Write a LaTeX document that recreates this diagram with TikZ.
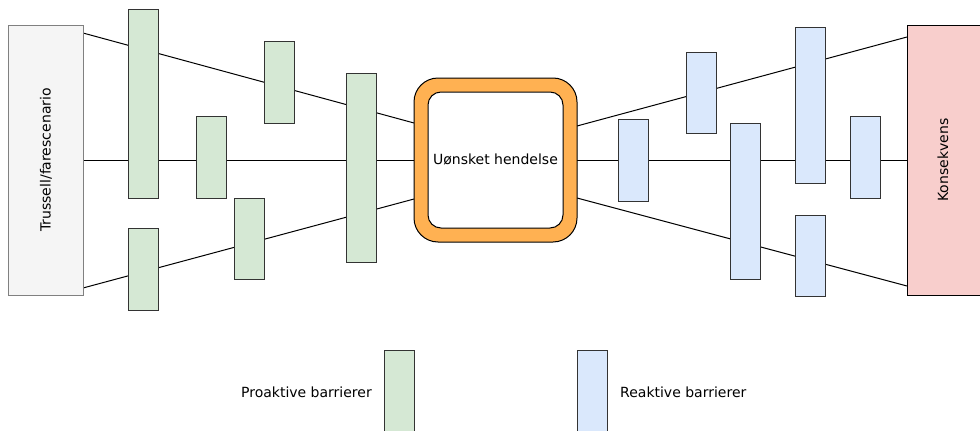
\documentclass[tikz,border=0pt]{standalone}
\usepackage{fontspec}
\setmainfont{DejaVu Sans}
\usetikzlibrary{backgrounds}
\definecolor{grayfill}{HTML}{F5F5F5}
\definecolor{graystroke}{HTML}{808080}
\definecolor{greenfill}{HTML}{D5E8D4}
\definecolor{bluefill}{HTML}{DAE8FC}
\definecolor{pinkfill}{HTML}{F8CECC}
\definecolor{orangefill}{HTML}{FFB152}
\definecolor{boxstroke}{HTML}{333333}
\begin{document}
\begin{tikzpicture}[x=1pt,y=-1pt,
  barrier/.style={draw=boxstroke,line width=1pt,minimum width=30pt,inner sep=0pt,outer sep=0pt},
  pro/.style={barrier,fill=greenfill},
  rea/.style={barrier,fill=bluefill},
  link/.style={draw=black,line width=1pt},
  lbl/.style={font=\fontsize{14}{16}\selectfont,inner sep=0pt}]
\useasboundingbox (0,0) rectangle (980,431);
\begin{scope}
\clip (0,0) rectangle (980,431);
% end boxes
\node[draw=graystroke,fill=grayfill,line width=1pt,minimum width=75pt,minimum height=270pt,inner sep=0pt,outer sep=0pt] (tru) at (45.5,160) {};
\node[lbl,rotate=90] (trutxt) at (46,160) {Trussell/farescenario};
\node[draw=black,fill=pinkfill,line width=1pt,minimum width=76pt,minimum height=270pt,inner sep=0pt,outer sep=0pt] (kon) at (945,160) {};
\node[lbl,rotate=90] (kontxt) at (943,160) {Konsekvens};
% event
\node[draw=black,fill=orangefill,line width=1pt,rounded corners=24pt,minimum width=163pt,minimum height=164pt,inner sep=0pt,outer sep=0pt] (ev) at (495.5,160) {};
\node[draw=black,fill=white,line width=1pt,rounded corners=13pt,minimum width=135pt,minimum height=136pt,inner sep=0pt] (evin) at (ev.center) {};
\node[lbl] (evtxt) at (ev.center) {Uønsket hendelse};
% proactive barriers
\node[pro,minimum height=189pt] (g1) at (143,103.5) {};
\node[pro,minimum height=82pt] (g2) at (279,82) {};
\node[pro,minimum height=82pt] (g3) at (211,157) {};
\node[pro,minimum height=189pt] (g4) at (361,167.5) {};
\node[pro,minimum height=82pt] (g5) at (143,269) {};
\node[pro,minimum height=81pt] (g6) at (249,238.5) {};
% reactive barriers
\node[rea,minimum height=82pt] (b1) at (633,160) {};
\node[rea,minimum height=81pt] (b2) at (701,92.5) {};
\node[rea,minimum height=156pt] (b3) at (745,201) {};
\node[rea,minimum height=156pt] (b4) at (810,105) {};
\node[rea,minimum height=82pt] (b5) at (865,157) {};
\node[rea,minimum height=81pt] (b6) at (810,255.5) {};
% legend
\node[pro,minimum height=90pt,anchor=north] (lg) at (399,350) {};
\node[rea,minimum height=90pt,anchor=north] (lb) at (592,350) {};
\node[lbl,anchor=east] (lgtxt) at (372,392) {Proaktive barrierer};
\node[lbl,anchor=west] (lbtxt) at (620,392) {Reaktive barrierer};
% connectors behind
\begin{scope}[on background layer]
\draw[link] ([yshift=127pt]tru.east) -- ([yshift=37pt]ev.west);
\draw[link] (tru.east) -- (ev.west);
\draw[link] ([yshift=-128pt]tru.east) -- ([yshift=-39pt]ev.west);
\draw[link] ([yshift=34pt]ev.east) -- ([yshift=123pt]kon.west);
\draw[link] (ev.east) -- (kon.west);
\draw[link] ([yshift=-38pt]ev.east) -- ([yshift=-126pt]kon.west);
\end{scope}
\end{scope}
\end{tikzpicture}
\end{document}
